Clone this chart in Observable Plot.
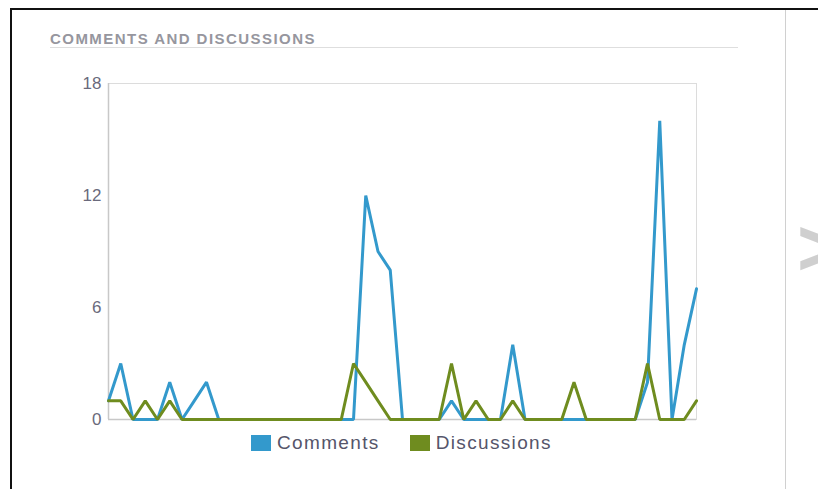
<!DOCTYPE html>
<html>
<head>
<meta charset="utf-8">
<script src="https://cdn.jsdelivr.net/npm/d3@7"></script>
<script src="https://cdn.jsdelivr.net/npm/@observablehq/plot@0.6"></script>
<style>
  html, body { margin: 0; padding: 0; background: #fff; }
  body { width: 818px; height: 489px; overflow: hidden; position: relative; font-family: "Liberation Sans", Arial, sans-serif; }
  .frame-top { position: absolute; left: 10px; top: 8px; width: 808px; height: 2px; background: #111; }
  .frame-left { position: absolute; left: 10px; top: 8px; width: 2px; height: 481px; background: #111; }
  .divider { position: absolute; left: 785px; top: 10px; width: 1px; height: 479px; background: #d0d0d0; }
  .chev { position: absolute; left: 797px; top: 208px; font-size: 80px; font-weight: bold; color: #cfcfcf; line-height: 1; }
  .title { position: absolute; left: 50px; top: 30px; font-size: 15px; font-weight: bold; color: #96969e; letter-spacing: 1.45px; white-space: nowrap; }
  .rule { position: absolute; left: 50px; top: 47px; width: 688px; height: 1px; background: #dedede; }
  #chart { position: absolute; left: 0; top: 60px; }
  .legend { position: absolute; top: 432px; left: 251px; display: flex; align-items: center; font-size: 19px; letter-spacing: 1.35px; color: #55556a; white-space: nowrap; }
  .sw { display: inline-block; width: 20px; height: 16px; margin-right: 6px; }
  .item { display: flex; align-items: center; }
</style>
</head>
<body>
<div class="frame-top"></div>
<div class="frame-left"></div>
<div class="divider"></div>
<div class="chev">&gt;</div>
<div class="title">COMMENTS AND DISCUSSIONS</div>
<div class="rule"></div>
<div id="chart"></div>
<div class="legend"></div>
<script>
const seriesNames = ["Comments", "Discussions"];
const seriesColors = ["#3399cc", "#6f8c1f"];
const comments = [1,3,0,0,0,2,0,1,2,0, 0,0,0,0,0,0,0,0,0,0, 0,12,9,8,0,0,0,0,1,0, 0,0,0,4,0,0,0,0,0,0, 0,0,0,0,2,16,0,4,7];
const discussions = [1,1,0,1,0,1,0,0,0,0, 0,0,0,0,0,0,0,0,0,0, 3,2,1,0,0,0,0,0,3,0, 1,0,0,1,0,0,0,0,2,0, 0,0,0,0,3,0,0,0,1];
const yTicks = [0, 6, 12, 18];

const toRows = arr => arr.map((v, i) => ({i, v}));

const chart = Plot.plot({
  width: 740,
  height: 370,
  marginLeft: 108,
  marginRight: 44,
  marginTop: 23,
  marginBottom: 11,
  style: { background: "transparent", fontFamily: "Liberation Sans, Arial, sans-serif", fontSize: "17px", color: "#6a6a7c" },
  x: { domain: [0, comments.length - 1], axis: null },
  y: { domain: [0, 18], ticks: yTicks, tickSize: 0, tickPadding: 7, label: null },
  marks: [
    Plot.frame({ stroke: "#dcdcdc", strokeWidth: 1 }),
    Plot.ruleX([0], { stroke: "#c8c8c8", strokeWidth: 1.5 }),
    Plot.ruleY([0], { stroke: "#c8c8c8", strokeWidth: 1.5 }),
    Plot.line(toRows(comments), { x: "i", y: "v", stroke: seriesColors[0], strokeWidth: 3, strokeLinejoin: "miter" }),
    Plot.line(toRows(discussions), { x: "i", y: "v", stroke: seriesColors[1], strokeWidth: 3, strokeLinejoin: "miter" })
  ]
});
document.getElementById("chart").appendChild(chart);

const legend = document.querySelector(".legend");
seriesNames.forEach((name, k) => {
  const item = document.createElement("div");
  item.className = "item";
  if (k > 0) item.style.marginLeft = "30px";
  const sw = document.createElement("span");
  sw.className = "sw";
  sw.style.background = seriesColors[k];
  const t = document.createElement("span");
  t.textContent = name;
  item.appendChild(sw);
  item.appendChild(t);
  legend.appendChild(item);
});
</script>
</body>
</html>
